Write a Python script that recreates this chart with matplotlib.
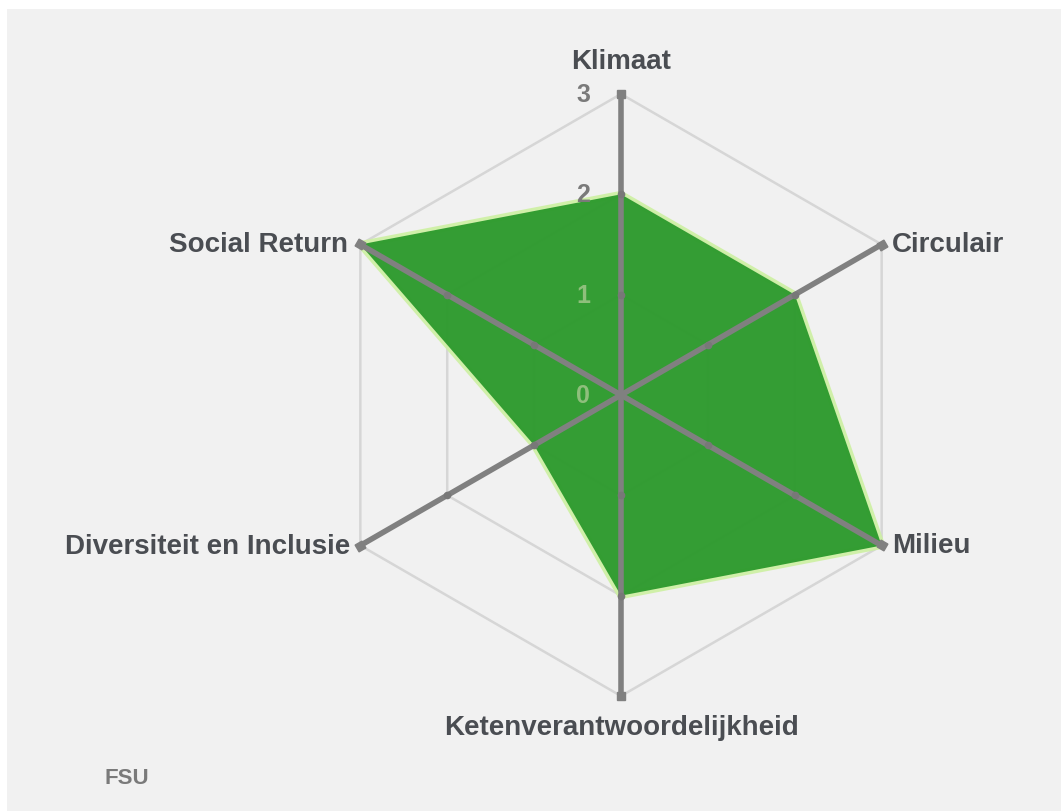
import numpy as np
import matplotlib.pyplot as plt
from matplotlib.patches import Rectangle

# categories in clockwise order, starting at the top
categories = ['Klimaat', 'Circulair', 'Milieu', 'Ketenverantwoordelijkheid',
              'Diversiteit en Inclusie', 'Social Return']
values = [2, 2, 3, 2, 1, 3]
levels = [1, 2, 3]
tick_labels = ['0', '1', '2', '3']
series_name = 'FSU'

W, H = 1061, 812
cx, cy = 621, 396          # centre of the radar in pixels
scale = 301 / 3            # pixels per unit

plt.rcParams['font.family'] = ['Liberation Sans', 'DejaVu Sans']

fig = plt.figure(figsize=(W / 100, H / 100), dpi=100, facecolor='white')
# grey panel behind the chart
fig.patches.append(Rectangle((7 / W, 0), 1, (H - 10) / H, transform=fig.transFigure,
                             facecolor='#f1f1f1', edgecolor='none', zorder=-1))

ax = fig.add_axes([0, 0, 1, 1])
ax.set_xlim(-cx / scale, (W - cx) / scale)
ax.set_ylim(-(H - cy) / scale, cy / scale)
ax.set_aspect('equal')
ax.axis('off')
ax.patch.set_alpha(0)

n = len(categories)
angles = np.pi / 2 - np.arange(n) * 2 * np.pi / n


def to_xy(r, a):
    return np.asarray(r) * np.cos(a), np.asarray(r) * np.sin(a)


# grid hexagons
for lv in levels:
    gx, gy = to_xy([lv] * (n + 1), np.append(angles, angles[0]))
    ax.plot(gx, gy, color='#d6d6d6', lw=1.8, zorder=1, solid_joinstyle='miter')

# data polygon
vx, vy = to_xy(values + values[:1], np.append(angles, angles[0]))
ax.plot(vx, vy, color='#cdf0a2', lw=5, alpha=0.9, zorder=2.5)
ax.fill(vx, vy, color='#2e9a2e', alpha=0.97, zorder=3, lw=0)

# radial tick labels (faint where they sit inside the filled area)
for i, t in enumerate(tick_labels):
    inside = i < values[0]
    ax.text(-0.31, i, t, ha='right', va='center', fontsize=18, fontweight='bold',
            color='#8fbf7c' if inside else '#7a7a7a', zorder=3.2)

# spokes with end caps and level ticks
for a in angles:
    sx, sy = to_xy([0, 3], a)
    ax.plot(sx, sy, color='#808080', lw=4, zorder=4, solid_capstyle='butt')
    ex, ey = to_xy(3, a)
    ax.plot(ex, ey, marker=(4, 0, np.degrees(a) + 45), ms=8, color='#808080',
            mec='#808080', zorder=4)
    for lv in levels[:-1]:
        tx, ty = to_xy(lv, a)
        ax.plot(tx, ty, marker='o', ms=4.5, color='#787878', zorder=4.5)

# category labels
label_pos = [
    (0, 0.33, 'center', 'center'),
    (0.1, 0, 'left', 'center'),
    (0.1, 0, 'left', 'center'),
    (0, -0.31, 'center', 'center'),
    (-0.1, 0, 'right', 'center'),
    (-0.12, 0, 'right', 'center'),
]
for cat, a, (dx, dy, ha, va) in zip(categories, angles, label_pos):
    lx, ly = to_xy(3, a)
    ax.text(lx + dx, ly + dy, cat, ha=ha, va=va, fontsize=20, fontweight='bold',
            color='#4a4d52', zorder=5)

fig.text(104 / W, 1 - 779 / H, series_name, ha='left', va='center', fontsize=16,
         fontweight='bold', color='#7a7a7a')

fig.savefig('out.png', dpi=100, facecolor='white')
